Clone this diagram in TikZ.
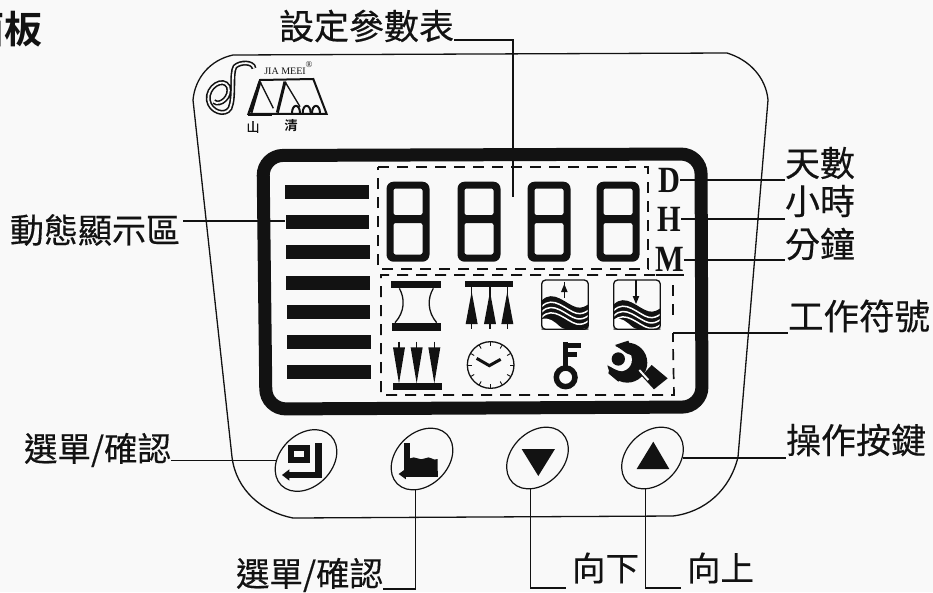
\documentclass[tikz,border=0pt]{standalone}
\usepackage{fontspec}
\usetikzlibrary{shapes.geometric}
\setmainfont{Liberation Serif}
\newfontfamily\cjk{Noto Sans CJK TC}[FakeBold=0.35]
\newfontfamily\cjkb{Noto Sans CJK TC Bold}
\definecolor{ink}{gray}{0.07}
\definecolor{paper}{gray}{0.975}
\tikzset{
  lbl/.style={inner sep=0pt,outer sep=0pt,text=ink,font=\cjk\fontsize{35}{37}\selectfont},
  lblsm/.style={inner sep=0pt,outer sep=0pt,text=ink,font=\cjk\fontsize{33.5}{36}\selectfont},
  lead/.style={draw=ink,line width=1.1pt},
  dbox/.style={draw=ink,line width=1.7pt,dash pattern=on 11pt off 8pt},
  btn/.style={ellipse,draw=ink,line width=1.2pt,minimum width=70pt,minimum height=52pt,inner sep=0pt,rotate=45},
  letter/.style={inner sep=0pt,outer sep=0pt,text=ink,font=\fontsize{37}{39}\selectfont\bfseries},
  bar/.style={fill=ink,draw=none},
  fine/.style={draw=ink,line width=1.3pt}
}
\newcommand{\digitat}[1]{%
  \fill[ink,even odd rule]
    [rounded corners=7pt] (#1-21.5,181.7) rectangle (#1+21.5,261.7)
    [rounded corners=2pt] (#1-14.5,188.5) rectangle (#1+14.5,215)
                          (#1-14.5,223) rectangle (#1+14.5,254.5);}
\newcommand{\wavepanel}[1]{%
  \begin{scope}
    \clip (0,0) rectangle (140,148);
    \fill[ink,shift={(0,#1)}] (0,62) .. controls (35,25) and (75,75) .. (105,82) .. controls (120,85) and (130,80) .. (140,73) -- (140,170) -- (0,170) -- cycle;
    \foreach \d in {18,34,50}
      \draw[white,line width=1.5pt,shift={(0,#1+\d)}] (0,62) .. controls (35,25) and (75,75) .. (105,82) .. controls (120,85) and (130,80) .. (140,73);
    \fill[white] (0,148) -- (0,118) .. controls (20,109) and (40,126) .. (55,140) .. controls (70,153) and (110,153) .. (140,143) -- (140,148) -- cycle;
  \end{scope}
  \draw[fine,rounded corners=4pt] (0,0) -- (0,148) -- (140,148) -- (140,0) -- cycle;}
\begin{document}
\begin{tikzpicture}[x=1pt,y=-1pt]
\useasboundingbox (0,0) rectangle (933,592);
\fill[paper] (0,0) rectangle (933,592);

% panel outline
\draw[fine] (233,55) -- (727,53) .. controls (750,60) and (766,78) .. (768,100)
  -- (738,457) .. controls (730,490) and (705,512) .. (673,516)
  -- (293,518) .. controls (262,512) and (236,490) .. (232,457)
  -- (193,100) .. controls (195,78) and (210,60) .. (233,55) -- cycle;

% display frame
\draw[draw=ink,line width=13pt,rounded corners=20pt] (263,155.5) -- (701,154) -- (702,407) -- (266,409) -- cycle;

% bars
\foreach \yy/\xx in {192/285,222/285.5,252/286,282.5/286.3,312/286.6,342/287,372/287.3}
  \fill[bar] (\xx,\yy-7) rectangle (\xx+83.5,\yy+7);
\node[draw=none,inner sep=0pt,minimum size=0pt] (barhit) at (285,221) {};

% digits
\digitat{408}\digitat{479}\digitat{549}\digitat{618}
\draw[dbox] (378,167) -- (648,167) -- (648,269) -- (378,269) -- cycle;
\coordinate (digitsin) at (513,197);

% letters
\node[letter] (D) at (669,180) {\scalebox{.82}[1]{D}};
\node[letter] (H) at (669.5,219) {\scalebox{.82}[1]{H}};
\node[letter] (M) at (669.5,259) {\scalebox{.82}[1]{M}};
\draw[ink,line width=1.5pt] (656,275) -- (684,275);

% lower dashed box
\draw[dbox] (655,275) -- (381,275) -- (381,395) -- (674,395) -- (673,345);
\draw[dbox] (673,285) -- (673,315);
\coordinate (symc) at (673,333);
\draw[lead,line width=1.5pt] (673,342) -- (673,333);

% icons
\begin{scope}[shift={(370,270)},x=.3333pt,y=-.3333pt]
  \fill[ink] (62,32) rectangle (212,55);
  \fill[ink] (65,158) rectangle (212,182);
  \draw[fine] (88,55) .. controls (105,85) and (105,125) .. (75,158);
  \draw[fine] (190,55) .. controls (172,85) and (172,125) .. (200,158);
  \fill[ink] (285,32) rectangle (430,52);
  \foreach \c in {305,360,412} {
    \fill[ink] (\c,65) -- (\c+18,162) -- (\c-18,162) -- cycle;
    \draw[fine] (\c,52) -- (\c,178);
  }
  \begin{scope}[shift={(515,30)}]
    \wavepanel{0}
    \draw[fine,line width=1.5pt] (68,5) -- (68,55);
    \fill[ink] (68,12) -- (78,36) -- (58,36) -- cycle;
  \end{scope}
  \begin{scope}[shift={(731,30)}]
    \wavepanel{12}
    \draw[fine,line width=1.5pt] (67,0) -- (67,50);
    \fill[ink] (67,72) -- (77,48) -- (57,48) -- cycle;
  \end{scope}
  \fill[ink] (68,340) rectangle (215,360);
  \foreach \c in {87,140,193} {
    \fill[ink] (\c-18,232) -- (\c+18,232) -- (\c,340) -- cycle;
    \draw[fine] (\c,215) -- (\c,240);
  }
  \draw[fine] (362,285) circle[radius=70];
  \foreach \a in {0,30,...,330}
    \draw[ink,line width=.9pt] (362,285) ++(\a:70) -- ++(\a+180:13);
  \draw[ink,line width=3pt] (320,265) -- (358,287) -- (392,268);
  \draw[ink,line width=5.5pt] (587,322) circle[radius=28];
  \fill[ink] (579,215) rectangle (595,295);
  \fill[ink] (587,220) rectangle (632,235);
  \fill[ink] (587,247) rectangle (622,260);
  \fill[ink] (772,278) circle[radius=60];
  \fill[ink] (845,285) -- (893,325) -- (852,358) -- (815,318) -- cycle;
  \draw[paper,line width=2pt] (808,300) -- (835,330);
  \fill[paper] (728,225) -- (780,248) .. controls (795,275) and (780,305) .. (745,305) -- (712,285) -- (700,220) -- cycle;
  \fill[ink] (745,267) circle[radius=20];
  \fill[ink] (720,290) .. controls (735,300) and (750,305) .. (775,308) -- (745,335) -- (715,310) -- cycle;
  \fill[ink] (735,225) -- (775,212) -- (795,260) -- (770,250) -- cycle;
\end{scope}

% logo
\begin{scope}[shift={(190,40)},x=.3333pt,y=-.3333pt]
  \draw[ink,line width=5pt] (192,85) .. controls (190,65) and (150,65) .. (135,80)
     .. controls (122,100) and (135,170) .. (120,205) .. controls (105,230) and (60,215) .. (55,180)
     .. controls (50,140) and (100,110) .. (115,140) .. controls (125,170) and (90,200) .. (72,185);
  \draw[paper,line width=1.8pt] (192,85) .. controls (190,65) and (150,65) .. (135,80)
     .. controls (122,100) and (135,170) .. (120,205) .. controls (105,230) and (60,215) .. (55,180)
     .. controls (50,140) and (100,110) .. (115,140) .. controls (125,170) and (90,200) .. (72,185);
  \draw[fine,line width=2pt] (210,120) -- (370,117) -- (410,222) -- (175,222) -- cycle;
  \draw[ink,line width=3pt] (210,125) -- (183,218);
  \draw[ink,line width=1.3pt] (210,125) -- (250,205);
  \draw[ink,line width=3pt] (285,125) -- (262,218);
  \draw[ink,line width=1.3pt] (285,125) -- (330,200);
  \foreach \c in {318,350,378}
    \draw[ink,line width=2pt] (\c-12,220) .. controls (\c-12,190) and (\c+12,190) .. (\c+12,220);
  \fill[ink] (175,218) rectangle (245,228);
\end{scope}
\node[inner sep=0pt,text=ink,font=\fontsize{10}{11}\selectfont] (brand) at (285,71) {JIA MEEI};
\node[inner sep=0pt,text=ink,font=\fontsize{9}{10}\selectfont] (regmark) at (309,65) {®};
\node[inner sep=0pt,text=ink,font=\cjk\fontsize{13}{14}\selectfont] (shan) at (253,127) {山};
\node[inner sep=0pt,text=ink,font=\cjkb\fontsize{13}{14}\selectfont] (qing) at (291,126) {清};

% buttons
\node[btn] (b1) at (306,460.5) {};
\node[btn] (b2) at (422,459) {};
\node[btn] (b3) at (537.5,458) {};
\node[btn] (b4) at (652.5,458) {};

% button glyphs
\begin{scope}[shift={(260,420)},x=.3333pt,y=-.3333pt]
  \draw[ink,line width=6pt] (94,84) rectangle (140,120);
  \fill[ink] (165,70) rectangle (185,175);
  \fill[ink] (85,155) rectangle (185,175);
  \fill[ink] (88,148) -- (88,182) -- (66,165) -- cycle;
  \fill[ink] (432,70) rectangle (450,155);
  \fill[ink] (438,152) rectangle (533,172);
  \fill[ink] (438,146) -- (438,178) -- (416,162) -- cycle;
  \fill[ink] (450,115) .. controls (465,105) and (480,125) .. (495,115) .. controls (510,105) and (520,125) .. (533,117) -- (533,155) -- (450,155) -- cycle;
  \fill[ink] (785,87) -- (885,87) -- (835,168) -- cycle;
  \fill[ink] (1180,65) -- (1228,147) -- (1130,147) -- cycle;
\end{scope}

% title
\node[inner sep=0pt,anchor=east,text=ink,font=\cjkb\fontsize{38}{40}\selectfont] (title) at (43,29) {面板};

% labels
\node[lbl,anchor=west] (lset) at (279,26) {設定參數表};
\node[lbl,anchor=west] (lday) at (785,163) {天數};
\node[lbl,anchor=west] (lhr) at (785,201) {小時};
\node[lbl,anchor=west] (lmin) at (785,244) {分鐘};
\node[lbl,anchor=west,font=\cjk\fontsize{35.5}{37}\selectfont] (lsym) at (788,316) {工作符號};
\node[lbl,anchor=west] (lkey) at (786,440) {操作按鍵};
\node[lbl,anchor=west,font=\cjk\fontsize{34}{36}\selectfont] (ldyn) at (10,230) {動態顯示區};
\node[lblsm,anchor=west] (lsel) at (24,450) {選單/確認};
\node[lblsm,anchor=west] (lsel2) at (236,575) {選單/確認};
\node[lblsm,anchor=west] (ldown) at (572,568) {向下};
\node[lblsm,anchor=west] (lup) at (687,568) {向上};

% leaders
\draw[lead] ([yshift=-14pt]lset.east) -| (digitsin);
\draw[lead] (D.east) -- (D.east -| lday.west);
\draw[lead] (H.east) -- (H.east -| lhr.west);
\draw[lead] ([yshift=-1pt]M.east) -- ([yshift=-1pt]M.east -| lmin.west);
\draw[lead] (symc) -- (symc -| lsym.west);
\draw[lead] (b4.-45) -- (b4.-45 -| lkey.west);
\draw[lead] ([xshift=3pt,yshift=9pt]ldyn.east) -- (barhit);
\draw[lead] (b1.135) -- (b1.135 -| lsel.east);
\draw[lead] (b2.213) |- ([yshift=-14pt]lsel2.east);
\draw[lead] (b3.213) |- ([xshift=-6pt,yshift=-20pt]ldown.west);
\draw[lead] (b4.213) |- ([xshift=-6pt,yshift=-20pt]lup.west);
\end{tikzpicture}
\end{document}
